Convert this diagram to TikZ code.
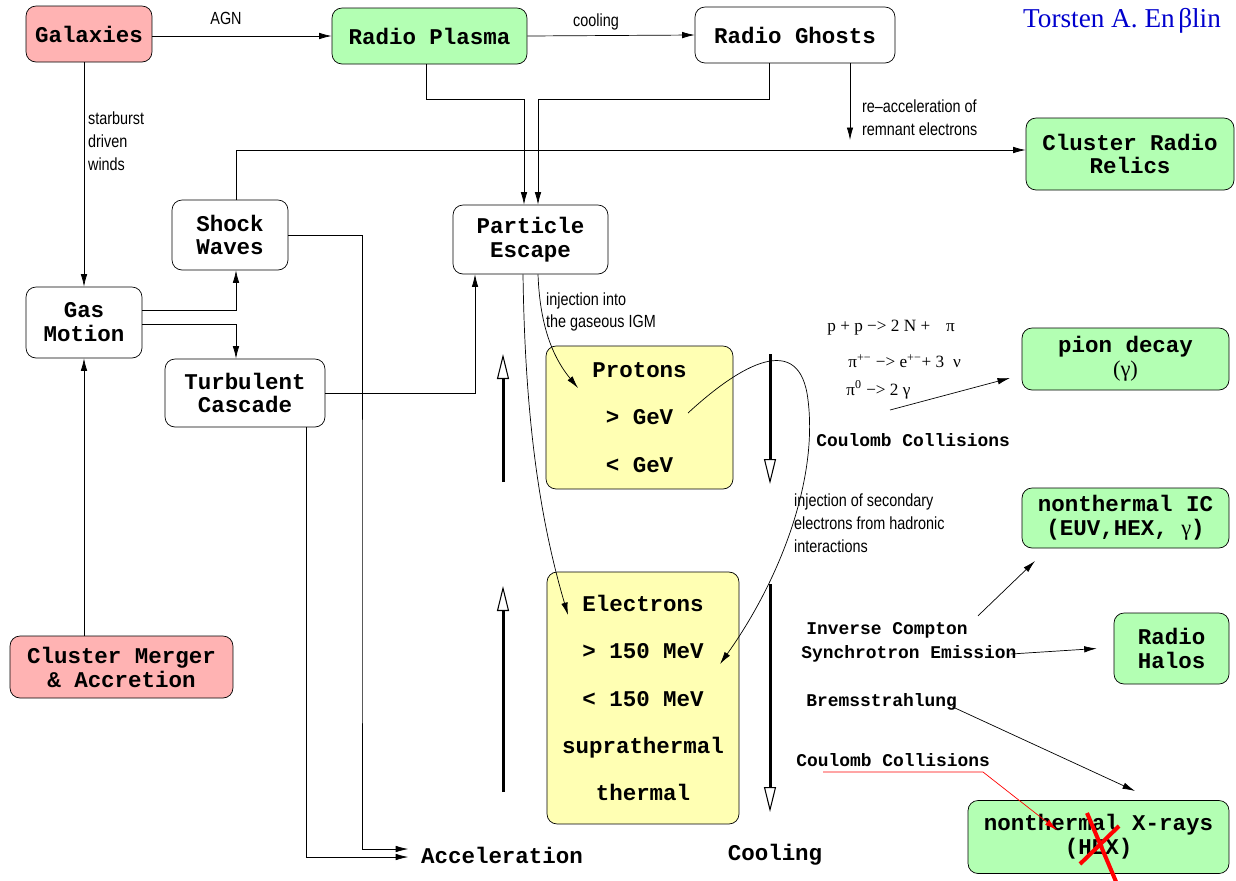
\documentclass[tikz,border=0pt]{standalone}
\usepackage{fontspec}
\setmainfont{Liberation Serif}
\setmonofont{Liberation Mono}
\newfontfamily\narrowsans[FakeStretch=0.82]{Liberation Sans}
\usetikzlibrary{arrows.meta}
\definecolor{redfill}{RGB}{255,179,179}
\definecolor{greenfill}{RGB}{179,255,179}
\definecolor{yellowfill}{RGB}{255,255,179}
\definecolor{authorblue}{RGB}{0,0,205}

\begin{document}
\begin{tikzpicture}[x=0.02cm, y=-0.02cm,
    box/.style={draw, rounded corners=0.2cm, align=center, inner sep=0pt,
      font=\ttfamily\bfseries\fontsize{12.8}{13.6}\selectfont},
    redbox/.style={box, fill=redfill},
    greenbox/.style={box, fill=greenfill},
    yellowbox/.style={box, fill=yellowfill, font=\ttfamily\bfseries\fontsize{12.8}{26.9}\selectfont},
    lbl/.style={font=\narrowsans\fontsize{10}{13}\selectfont, align=left, inner sep=1pt},
    eqn/.style={font=\fontsize{9.8}{11}\selectfont, anchor=west, inner sep=0pt},
    proc/.style={font=\ttfamily\bfseries\fontsize{10.2}{12}\selectfont, anchor=west, inner sep=0pt},
    flow/.style={-{Latex[length=2.5mm,width=1.3mm]}},
    scalearr/.style={line width=1.7pt, -{Triangle[open,length=5mm,width=2.4mm,line width=0.6pt]}}]
  \useasboundingbox (0,0) rectangle (1236,880);

  % boxes
  \node[redbox, minimum width=2.52cm, minimum height=1.12cm] (gal) at (89,34) {Galaxies};
  \node[greenbox, minimum width=3.9cm, minimum height=1.12cm] (plasma) at (429.5,36) {Radio Plasma};
  \node[box, minimum width=4.0cm, minimum height=1.12cm] (ghosts) at (795,35) {Radio Ghosts};
  \node[greenbox, minimum width=4.16cm, minimum height=1.44cm] (relics) at (1130,154) {Cluster Radio\\Relics};
  \node[box, minimum width=2.32cm, minimum height=1.4cm] (shock) at (230,235) {Shock\\Waves};
  \node[box, minimum width=3.1cm, minimum height=1.38cm] (escape) at (530.5,239.5) {Particle\\Escape};
  \node[box, minimum width=2.32cm, minimum height=1.42cm] (gas) at (84,322.5) {Gas\\Motion};
  \node[box, minimum width=3.2cm, minimum height=1.36cm] (turb) at (245,393) {Turbulent\\Cascade};
  \node[yellowbox, minimum width=3.74cm, minimum height=2.86cm] (protons) at (639.5,417.5) {Protons\\> GeV\\< GeV};
  \node[yellowbox, minimum width=3.84cm, minimum height=5.04cm] (electrons) at (643,698) {Electrons\\> 150 MeV\\< 150 MeV\\suprathermal\\thermal};
  \node[redbox, minimum width=4.46cm, minimum height=1.24cm] (merger) at (121.5,667) {Cluster Merger\\\& Accretion};
  \node[greenbox, minimum width=4.14cm, minimum height=1.24cm] (pion) at (1125.5,359) {pion decay\\{\rmfamily\mdseries (γ)}};
  \node[greenbox, minimum width=4.14cm, minimum height=1.2cm] (ic) at (1125.5,518) {nonthermal IC\\(EUV,HEX, {\rmfamily\mdseries γ})};
  \node[greenbox, minimum width=2.3cm, minimum height=1.42cm] (halos) at (1171.5,648.5) {Radio\\Halos};
  \node[greenbox, minimum width=5.22cm, minimum height=1.46cm] (xray) at (1098.5,837) {nonthermal X-rays\\(HEX)};

  \node[font=\ttfamily\bfseries\fontsize{12.8}{13.6}\selectfont, inner sep=0.25cm] (accel) at (502,855) {Acceleration};
  \node[font=\ttfamily\bfseries\fontsize{12.8}{13.6}\selectfont] (cool) at (775,855) {Cooling};
  \node[font=\fontsize{15.5}{18}\selectfont, text=authorblue] (author) at (1122,21) {Torsten A. En\hspace{2pt}βlin};

  % labels
  \node[lbl] (agn) at (226,18) {AGN};
  \node[lbl] (cooling) at (596,22) {cooling};
  \node[lbl, anchor=west] (winds) at (86,141) {starburst\\driven\\winds};
  \node[lbl, anchor=west] (reacctxt) at (860,118) {re–acceleration of\\remnant electrons};
  \node[lbl, anchor=west] (igm) at (544,312) {injection into\\the gaseous IGM};
  \node[lbl, anchor=west] (sectxt) at (792,523) {injection of secondary\\electrons from hadronic\\interactions};

  % reactions
  \node[eqn] (eq1) at (827,328) {p + p −> 2 N +\hspace{9pt}π};
  \node[eqn] (eq2) at (848,361) {π\textsuperscript{+−} −> e\textsuperscript{+−}+ 3\hspace{5pt}ν};
  \node[eqn] (eq3) at (846,390) {π\textsuperscript{0} −> 2 γ};
  \node[proc] (cc1) at (816,440) {Coulomb Collisions};
  \node[proc] (ictxt) at (806,630) {Inverse Compton};
  \node[proc] (sync) at (801,654) {Synchrotron Emission};
  \node[proc] (brems) at (806,702) {Bremsstrahlung};
  \node[proc] (cc2) at (796,760) {Coulomb Collisions};

  % connectors
  \draw[flow] (gal.east |- plasma) -- (plasma.west);
  \draw[flow] (plasma.east) -- (ghosts.west);
  \draw[flow] (gal.south -| gas) -- (gas.north);
  \draw[flow] (merger.north -| gas) -- (gas.south);
  \draw[flow] ([yshift=0.25cm]gas.east) -| ([xshift=0.12cm]shock.south);
  \draw[flow] ([yshift=-0.03cm]gas.east) -| ([xshift=-0.18cm]turb.north);
  \draw[flow] ([xshift=0.12cm]shock.north) |- ([yshift=0.08cm]relics.west);
  \coordinate (reacc) at (850,140);
  \draw[flow] (ghosts.south -| reacc) -- (reacc);
  \draw[flow] ([xshift=-0.07cm]plasma.south) -- ++(0,35) -| ([xshift=-0.13cm]escape.north);
  \draw[flow] ([xshift=-0.52cm]ghosts.south) -- ++(0,36) -| ([xshift=0.15cm]escape.north);
  \draw[flow] (turb.east) -| ([xshift=-1.11cm]escape.south);
  \draw[flow] (shock.east) -| (362,600) |- ([yshift=0.12cm]accel.west);
  \draw[flow] ([xshift=1.22cm]turb.south) |- ([yshift=-0.04cm]accel.west);

  % injection curves
  \coordinate (pin) at (578,388);
  \coordinate (ein) at (568,615);
  \coordinate (pout) at (688,413);
  \coordinate (esec) at (720,664);
  \draw[flow] ([xshift=0.15cm]escape.south) .. controls (540,330) and (555,360) .. (pin);
  \draw[flow] ([xshift=-0.15cm]escape.south) .. controls (525,420) and (540,520) .. (ein);
  \draw[flow] (pout) .. controls (740,365) and (800,330) .. (808,400)
    .. controls (818,480) and (780,580) .. (esec);

  % energy scale arrows
  \coordinate (acc1a) at (503,482); \coordinate (acc1b) at (503,354);
  \coordinate (acc2a) at (503,792); \coordinate (acc2b) at (503,586);
  \coordinate (cool1a) at (770,354); \coordinate (cool1b) at (770,484);
  \coordinate (cool2a) at (770,584); \coordinate (cool2b) at (770,812);
  \draw[scalearr] (acc1a) -- (acc1b);
  \draw[scalearr] (acc2a) -- (acc2b);
  \draw[scalearr] (cool1a) -- (cool1b);
  \draw[scalearr] (cool2a) -- (cool2b);

  % emission
  \coordinate (pionend) at (1010,378);
  \draw[flow] (890,410) -- (pionend);
  \coordinate (icend) at (1035,561);
  \draw[flow] ([xshift=0.2cm,yshift=0.12cm]ictxt.north east) -- (icend);
  \draw[flow] ([xshift=-0.12cm]sync.east) -- ([xshift=-0.34cm]halos.west);
  \coordinate (xend) at (1135,791);
  \draw[flow] ([xshift=-0.1cm,yshift=0.08cm]brems.south east) -- (xend);
  \coordinate (ccend) at (1057,830);
  \draw[red, -{Latex[length=2.5mm,width=1.3mm]}] (823,772) -- (983,772) -- (ccend);
  \draw[red, line width=2.3pt] (1087,813) -- (1117,884);
  \draw[red, line width=2.3pt] (1080,864) -- (1119,826);
\end{tikzpicture}
\end{document}
